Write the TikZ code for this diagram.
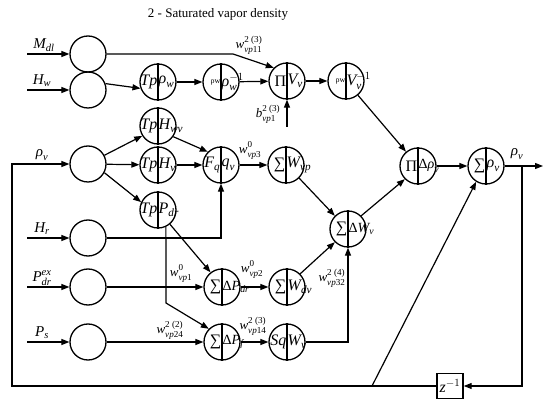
\documentclass[tikz,border=0pt]{standalone}
\usepackage{amsmath}
\usepackage{fontspec}
\setmainfont{Liberation Serif}
\usetikzlibrary{arrows.meta,calc}
\newcommand\vi[1]{\textit{#1}}
\newcommand\tu[1]{\textup{#1}}
\newcommand\sm{\fontsize{14}{15}\selectfont}
\newcommand\splitcirc[5]{%
  \node[circ] (#1) at (#2) {};
  \draw[conn] (#1.north) -- (#1.south);
  \node[half,anchor=east] (#1-l) at ([xshift=-0.5pt]#1.center) {#4};
  \node[half,anchor=west] (#1-r) at ([xshift=0.5pt]#1.center) {#5};
}
\begin{document}
\begin{tikzpicture}[x=1pt,y=-1pt,
  circ/.style={circle,draw,line width=1.3pt,minimum size=36pt,inner sep=0pt},
  half/.style={inner sep=0pt,font=\fontsize{16}{17}\selectfont},
  wl/.style={inner sep=0pt,font=\fontsize{13}{14}\selectfont},
  inl/.style={inner sep=0pt,font=\fontsize{15}{16}\selectfont},
  conn/.style={line width=1.2pt},
  arr/.style={conn,-{Triangle[length=8pt,width=6pt]}},
  zbox/.style={draw,line width=1.4pt,minimum width=26pt,minimum height=25pt,inner sep=0pt}]
\useasboundingbox (0,0) rectangle (550,406);

\node[inner sep=0pt] (title) at (218,14) {\fontsize{13}{15}\selectfont 2 - Saturated vapor density};

% input circles
\node[circ] (i1) at (88,54) {};
\node[circ] (i2) at (88,90) {};
\node[circ] (i3) at (88,164) {};
\node[circ] (i4) at (88,238) {};
\node[circ] (i5) at (88,287) {};
\node[circ] (i6) at (88,342) {};

\coordinate (s1) at (27,54);
\coordinate (s2) at (27,90);
\coordinate (s4) at (27,238);
\coordinate (s5) at (27,287);
\coordinate (s6) at (27,342);
\draw[arr] (s1) -- (i1);
\draw[arr] (s2) -- (i2);
\draw[arr] (s4) -- (i4);
\draw[arr] (s5) -- (i5);
\draw[arr] (s6) -- (i6);
\node[inl] (l1) at (44,45) {$\vi{M}_{\vi{dl}}$};
\node[inl] (l2) at (42,81) {$\vi{H}_{\vi{w}}$};
\node[inl] (l3) at (42,155) {$\vi{ρ}_{\vi{v}}$};
\node[inl] (l4) at (42,229) {$\vi{H}_{\vi{r}}$};
\node[inl] (l5) at (42,278) {$\vi{P}_{\vi{dr}}^{\vi{ex}}$};
\node[inl] (l6) at (42,333) {$\vi{P}_{\vi{s}}$};

% split circles
\splitcirc{tpr}{158,82}{}{$\vi{Tp}$}{$\vi{ρ}_{\vi{w}}$}
\splitcirc{rr}{221,82}{}{\fontsize{8}{8}\selectfont ρw}{$\vi{ρ}_{\vi{w}}^{-1}$}
\splitcirc{piv}{287,81}{}{Π}{$\vi{V}_{\vi{v}}$}
\splitcirc{rv}{346,81}{}{\fontsize{8}{8}\selectfont ρw}{$\vi{V}_{\vi{v}}^{-1}$}
\splitcirc{thwv}{158,126}{}{$\vi{Tp}$}{$\vi{H}_{\vi{wv}}$}
\splitcirc{thv}{158,165}{}{$\vi{Tp}$}{$\vi{H}_{\vi{v}}$}
\splitcirc{tpd}{158,210}{}{$\vi{Tp}$}{$\vi{P}_{\vi{dr}}$}
\splitcirc{fq}{221,165}{}{$\vi{F}_{\vi{q}}$}{$\vi{q}_{\vi{v}}$}
\splitcirc{swvp}{286,165}{}{∑}{$\vi{W}_{\vi{vp}}$}
\splitcirc{sdwv}{348,229}{}{∑}{\sm$\tu{Δ}\vi{W}_{\vi{v}}$}
\splitcirc{pidr}{418,166}{}{Π}{\sm$\tu{Δ}\vi{ρ}_{\vi{v}}$}
\splitcirc{srho}{486,166}{}{∑}{$\vi{ρ}_{\vi{v}}$}
\splitcirc{sdp}{222,287}{}{∑}{\sm$\tu{Δ}\vi{P}_{\vi{dr}}$}
\splitcirc{swdv}{287,287}{}{∑}{$\vi{W}_{\vi{dv}}$}
\splitcirc{sdpf}{222,342}{}{∑}{\sm$\tu{Δ}\vi{P}_{\vi{f}}$}
\splitcirc{sqw}{287,342}{}{$\vi{Sq}$}{$\vi{W}_{\vi{v}}$}

\node[zbox] (z) at (450,386) {\fontsize{16}{17}\selectfont$\vi{z}^{-1}$};

% top chain
\coordinate (k1) at (233,54);
\draw[arr] (i1) -- (k1) -- (piv.135);
\draw[arr] (i2.20) -- (tpr.200);
\draw[arr] (tpr) -- (rr);
\draw[arr] (rr) -- (piv);
\draw[arr] (piv) -- (rv);
\coordinate (bsrc) at (287,127);
\draw[arr] (bsrc) -- (piv.south);
\node[wl] (lw11) at (249,45) {$\vi{w}_{\vi{vp}\tu{11}}^{\tu{2 (3)}}$};
\node[wl] (lb1) at (268,114) {$\vi{b}_{\vi{vp}\tu{1}}^{\tu{2 (3)}}$};

% middle
\draw[arr] (i3.28) -- (thwv.212);
\draw[arr] (i3) -- (thv);
\draw[arr] (i3.-28) -- (tpd.155);
\draw[arr] (thwv.-35) -- (fq.135);
\draw[arr] (thv) -- (fq);
\coordinate (k4) at (221,238);
\draw[arr] (i4) -- (k4) -- (fq.south);
\draw[arr] (fq) -- (swvp);
\node[wl] (lw3) at (250,150) {$\vi{w}_{\vi{vp}\tu{3}}^{\tu{0}\vphantom{(}}$};
\draw[arr] (swvp.-45) -- (sdwv.135);
\draw[arr] (sdwv.45) -- (pidr.225);
\draw[arr] (rv.-50) -- (pidr.130);
\draw[arr] (pidr) -- (srho);

% bottom
\draw[arr] (tpd.-50) -- (sdp.128);
\coordinate (k8) at (166,303);
\draw[arr] (tpd.-65) -- (k8) -- (sdpf.135);
\draw[arr] (i5) -- (sdp);
\draw[arr] (sdp) -- (swdv);
\draw[arr] (swdv.45) -- (sdwv.225);
\draw[arr] (i6) -- (sdpf);
\draw[arr] (sdpf) -- (sqw);
\coordinate (k9) at (348,342);
\draw[arr] (sqw) -- (k9) -- (sdwv.south);
\node[wl] (lw1) at (181,273) {$\vi{w}_{\vi{vp}\tu{1}}^{\tu{0}\vphantom{(}}$};
\node[wl] (lw2) at (252,269) {$\vi{w}_{\vi{vp}\tu{2}}^{\tu{0}\vphantom{(}}$};
\node[wl] (lw32) at (332,278) {$\vi{w}_{\vi{vp}\tu{32}}^{\tu{2 (4)}}$};
\node[wl] (lw24) at (170,330) {$\vi{w}_{\vi{vp}\tu{24}}^{\tu{2 (2)}}$};
\node[wl] (lw14) at (253,326) {$\vi{w}_{\vi{vp}\tu{14}}^{\tu{2 (3)}}$};

% output and feedback
\coordinate (out) at (543,166);
\coordinate (br) at (522,166);
\coordinate (brd) at (522,386);
\draw[arr] (srho) -- (out);
\draw[arr] (br) -- (brd) -- (z);
\node[inl] (lout) at (517,154) {$\vi{ρ}_{\vi{v}}$};
\coordinate (fl) at (12,386);
\coordinate (fu) at (12,164);
\coordinate (fd) at (372,386);
\draw[arr] (z) -- (fl) -- (fu) -- (i3);
\draw[arr] (fd) -- (srho.238);
\end{tikzpicture}
\end{document}
